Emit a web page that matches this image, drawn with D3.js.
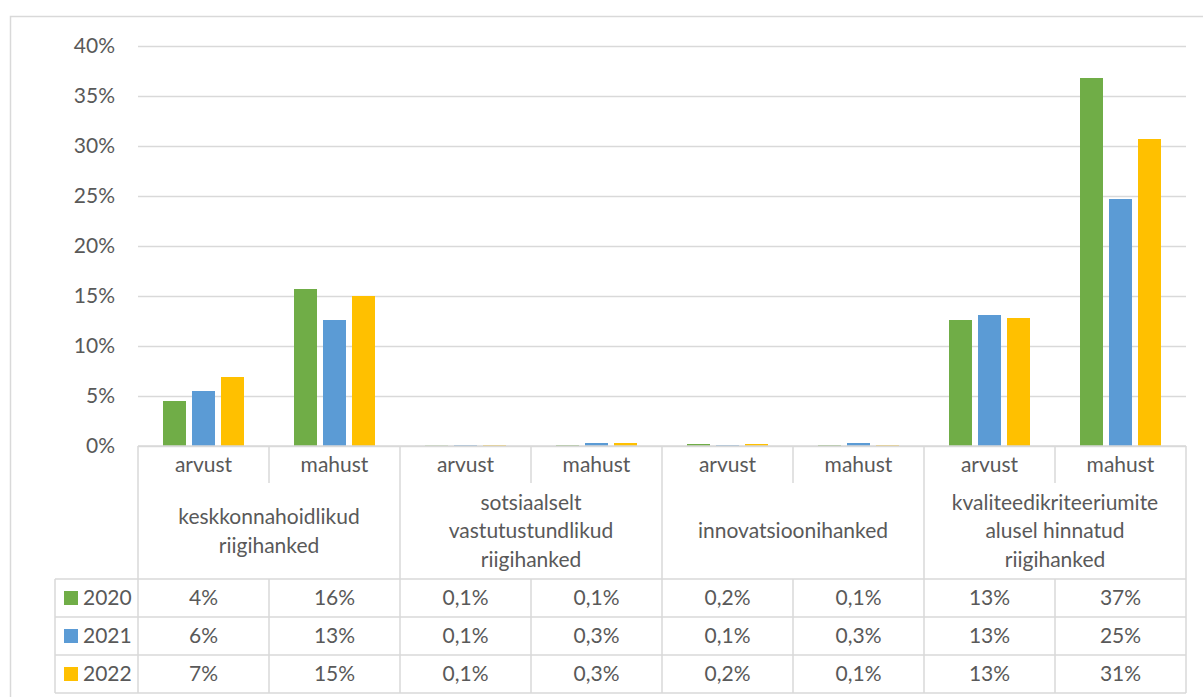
<!DOCTYPE html>
<html>
<head>
<meta charset="utf-8">
<script src="https://cdn.jsdelivr.net/npm/d3@7"></script>
<style>
  body { margin: 0; background: #fff; }
  svg text { font-family: Lato, "Open Sans", sans-serif; fill: #595959; }
</style>
</head>
<body>
<svg width="1203" height="697"></svg>
<script>
// categories
var groups = [
    ['keskkonnahoidlikud', 'riigihanked'],
    ['sotsiaalselt', 'vastutustundlikud', 'riigihanked'],
    ['innovatsioonihanked'],
    ['kvaliteedikriteeriumite', 'alusel hinnatud', 'riigihanked']
];
var subLabels = ['arvust', 'mahust'];
var years = ['2020', '2021', '2022'];
var colors = ['#70ad47', '#5b9bd5', '#ffc000'];

// series values (fraction)
var values2020 = [0.045, 0.157, 0.0005, 0.001, 0.002, 0.001, 0.126, 0.368];
var values2021 = [0.055, 0.126, 0.001, 0.003, 0.001, 0.003, 0.131, 0.247];
var values2022 = [0.069, 0.150, 0.001, 0.003, 0.002, 0.001, 0.128, 0.307];

// data table labels as printed
var table2020 = ['4%', '16%', '0,1%', '0,1%', '0,2%', '0,1%', '13%', '37%'];
var table2021 = ['6%', '13%', '0,1%', '0,3%', '0,1%', '0,3%', '13%', '25%'];
var table2022 = ['7%', '15%', '0,1%', '0,3%', '0,2%', '0,1%', '13%', '31%'];

var yTicks = [0, 0.05, 0.10, 0.15, 0.20, 0.25, 0.30, 0.35, 0.40];

var series = [values2020, values2021, values2022];
var tables = [table2020, table2021, table2022];

var svg = d3.select('svg'),
    plotLeft = 138, plotRight = 1186, plotTop = 46, base = 446,
    grid = '#d9d9d9',
    fs = 21;

var cats = d3.range(groups.length * subLabels.length);

var x0 = d3.scaleBand().domain(cats).range([plotLeft, plotRight]);
var x1 = d3.scaleBand().domain(years).range([0, x0.bandwidth()])
    .paddingInner(0.207).paddingOuter(0.862);
var y = d3.scaleLinear().domain([0, 0.40]).range([base, plotTop]);

// outer chart border
svg.append('rect')
    .attr('x', 10.5).attr('y', 16.5)
    .attr('width', 1210).attr('height', 700)
    .attr('fill', 'none').attr('stroke', grid).attr('stroke-width', 1.5);

// gridlines + y labels
var yAxis = d3.axisLeft(y).tickValues(yTicks).tickFormat(d3.format('.0%'))
    .tickSize(-(plotRight - plotLeft)).tickPadding(23);
var ga = svg.append('g').attr('transform', 'translate(' + plotLeft + ',0)').call(yAxis);
ga.select('.domain').remove();
ga.selectAll('line').attr('stroke', grid).attr('stroke-width', 1.5);
ga.selectAll('text').attr('font-size', fs).attr('font-family', null).style('fill', '#595959');

// bars
var bars = svg.append('g');
series.forEach(function (vals, si) {
    bars.selectAll('.b' + si)
        .data(vals)
        .enter().append('rect')
        .attr('x', function (d, i) { return x0(i) + x1(years[si]); })
        .attr('y', function (d) { return y(d); })
        .attr('width', x1.bandwidth())
        .attr('height', function (d) { return base - y(d); })
        .attr('fill', colors[si]);
});

// data table
var tbl = svg.append('g');
var subBottom = 483, groupBottom = 579, rowH = 38, legLeft = 55;
var rowTop = function (r) { return groupBottom + r * rowH; };
var tblBottom = rowTop(years.length);

function hline(xa, xb, yy) {
    tbl.append('line').attr('x1', xa).attr('x2', xb).attr('y1', yy).attr('y2', yy)
        .attr('stroke', grid).attr('stroke-width', 1.5);
}
function vline(xx, ya, yb) {
    tbl.append('line').attr('x1', xx).attr('x2', xx).attr('y1', ya).attr('y2', yb)
        .attr('stroke', grid).attr('stroke-width', 1.5);
}

hline(plotLeft, plotRight, base);
for (var r = 0; r <= years.length; r++) hline(legLeft, plotRight, rowTop(r));
vline(legLeft, groupBottom, tblBottom);
cats.forEach(function (c) {
    var xx = x0(c);
    if (c % subLabels.length === 0) vline(xx, base, tblBottom);
    else {
        vline(xx, base, subBottom);
        vline(xx, groupBottom, tblBottom);
    }
});
vline(plotRight, base, tblBottom);

// sub labels
tbl.selectAll('.sub').data(cats).enter().append('text')
    .attr('x', function (c) { return x0(c) + x0.bandwidth() / 2; })
    .attr('y', (base + subBottom) / 2)
    .attr('dy', '0.35em')
    .attr('text-anchor', 'middle')
    .attr('font-size', fs)
    .text(function (c) { return subLabels[c % subLabels.length]; });

// group labels
var lineH = 28.5;
groups.forEach(function (lines, gi) {
    var cx = x0(gi * subLabels.length) + x0.bandwidth();
    var cy = (subBottom + groupBottom) / 2 - (lines.length - 1) * lineH / 2;
    lines.forEach(function (t, li) {
        tbl.append('text')
            .attr('x', cx).attr('y', cy + li * lineH)
            .attr('dy', '0.35em').attr('text-anchor', 'middle')
            .attr('font-size', fs).text(t);
    });
});

// rows
years.forEach(function (yr, ri) {
    var cy = rowTop(ri) + rowH / 2;
    tbl.append('rect').attr('x', 64).attr('y', cy - 7).attr('width', 14).attr('height', 14)
        .attr('fill', colors[ri]);
    tbl.append('text').attr('x', 83).attr('y', cy).attr('dy', '0.35em')
        .attr('font-size', fs).text(yr);
    tbl.selectAll('.v' + ri).data(tables[ri]).enter().append('text')
        .attr('x', function (d, i) { return x0(i) + x0.bandwidth() / 2; })
        .attr('y', cy).attr('dy', '0.35em')
        .attr('text-anchor', 'middle').attr('font-size', fs)
        .text(function (d) { return d; });
});
</script>
</body>
</html>
